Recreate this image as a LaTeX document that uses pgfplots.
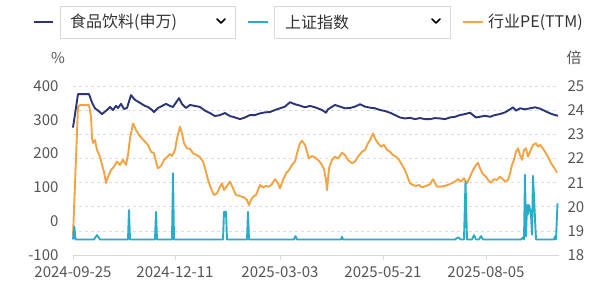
\documentclass[border=0pt]{standalone}
\usepackage{fontspec}
\setmainfont{Noto Sans CJK SC}
\usepackage{pgfplots}
\pgfplotsset{compat=1.18}
\definecolor{navy}{HTML}{2A3577}
\definecolor{cyanl}{HTML}{2AACC8}
\definecolor{orng}{HTML}{F2A444}
\definecolor{gridc}{HTML}{DCDCDC}
\definecolor{tickc}{HTML}{555555}
\definecolor{boxc}{HTML}{D8D8D8}
\begin{document}
\begin{tikzpicture}[x=1pt,y=1pt]
\path[use as bounding box, fill=white] (0,0) rectangle (600,290);
% ---------- right axis: PE (TTM) ----------
\begin{axis}[
  at={(73pt,35pt)}, anchor=south west, scale only axis,
  width=486pt, height=169pt,
  xmin=0, xmax=486, ymin=18, ymax=25,
  axis x line=none,
  axis y line*=right,
  y axis line style={draw=none},
  ytick={18,19,20,21,22,23,24,25},
  yticklabels={18,19,20,21,22,23,24,25},
  ytick style={draw=none},
  ymajorgrids, grid style={gridc, dashed, line width=0.6pt},
  y tick label style={font=\fontsize{15}{16}\selectfont, text=tickc, anchor=west, xshift=5pt},
  /pgf/number format/assume math mode=true,
  clip=false,
]
\addplot[orng, line width=1.9pt, line join=round] coordinates {
(0,18.8) (5,24.14) (7,24.21) (16,24.21) (18,23.73) (19,22.85) (20,22.64) (22,22.76)
(24,22.35) (27,22.07) (29,21.73) (31,21.45) (33,20.98) (35,21.24) (38,21.52) (41,21.66)
(44,21.87) (47,21.73) (50,21.94) (53,21.73) (55,22.14) (57,22.83) (60,23.45) (63,23.18)
(66,22.97) (69,22.83) (72,22.69) (75,22.56) (78,22.28) (81,22.21) (83,21.87) (85,21.59)
(88,21.69) (91,21.94) (94,22.05) (97,22.18) (99,22.10) (102,22.35) (104,22.83) (107,23.31)
(109,23.04) (111,22.63) (114,22.42) (117,22.40) (120,22.21) (124,22.14) (127,22.05) (130,21.87)
(133,21.45) (135,21.11) (138,20.76) (141,20.49) (144,20.55) (147,20.83) (149,20.97) (151,20.69)
(154,20.86) (157,21.04) (160,20.76) (163,20.49) (167,20.44) (171,20.39) (174,20.28) (176,20.07)
(178,20.28) (180,20.41) (183,20.49) (185,20.69) (187,20.90) (190,20.80) (193,20.86) (196,20.83)
(199,20.94) (202,21.14) (205,20.97) (207,20.76) (210,21.11) (213,21.38) (216,21.52) (219,21.73)
(222,21.87) (224,22.21) (227,22.63) (229,22.73) (232,22.56) (234,22.28) (236,22.00) (239,22.10)
(242,22.04) (245,21.94) (248,21.80) (251,21.55) (253,21.11) (254,20.69) (256,21.59) (259,21.94)
(262,22.07) (265,22.00) (269,22.24) (272,22.14) (275,21.94) (279,21.80) (282,21.87) (285,22.07)
(289,22.28) (292,22.35) (295,22.63) (297,22.76) (300,23.04) (302,22.83) (305,22.63) (308,22.49)
(311,22.56) (314,22.35) (317,22.28) (320,22.14) (323,22.07) (326,21.94) (329,21.73) (332,21.52)
(335,21.18) (337,20.97) (340,20.90) (343,20.86) (346,20.90) (349,20.80) (353,20.86) (357,20.93)
(360,21.14) (364,20.83) (367,20.83) (372,20.86) (377,20.94) (382,21.04) (385,21.14) (388,21.04)
(391,21.18) (394,20.97) (397,21.24) (400,21.52) (403,21.73) (405,21.82) (407,21.59) (410,21.35)
(413,21.24) (415,21.11) (418,21.00) (421,21.14) (424,21.11) (427,21.24) (430,21.14) (432,21.04)
(435,21.11) (437,21.38) (439,21.73) (441,21.94) (443,22.28) (445,22.42) (447,22.14) (449,21.94)
(451,22.35) (453,22.42) (455,22.07) (457,22.28) (460,22.56) (463,22.63) (465,22.49) (467,22.56)
(469,22.46) (472,22.28) (475,22.07) (478,21.80) (481,21.63) (484,21.41)
};
\end{axis}
% ---------- left axis ----------
\begin{axis}[
  at={(73pt,35pt)}, anchor=south west, scale only axis,
  width=486pt, height=169pt,
  xmin=0, xmax=486, ymin=-100, ymax=400,
  axis x line*=bottom,
  axis y line*=left,
  x axis line style={draw=boxc, line width=0.8pt},
  y axis line style={draw=none},
  xtick={0,102,207,310,413},
  xticklabels={2024-09-25,2024-12-11,2025-03-03,2025-05-21,2025-08-05},
  xtick style={draw=boxc, line width=0.8pt},
  tick align=outside, major tick length=5pt,
  ytick={-100,0,100,200,300,400},
  yticklabels={-100,0,100,200,300,400},
  ytick style={draw=none},
  x tick label style={font=\fontsize{15}{16}\selectfont, text=tickc, anchor=north, yshift=-3pt},
  y tick label style={font=\fontsize{15}{16}\selectfont, text=tickc, anchor=east, xshift=-6pt},
  /pgf/number format/assume math mode=true,
  clip=false,
]
\addplot[navy, line width=1.9pt, line join=round] coordinates {
(0,277) (5,376) (16,376) (19,351) (22,334) (26,325) (29,317) (34,329) (37,338) (40,329)
(43,341) (45,335) (48,347) (51,332) (54,335) (58,373) (62,359) (67,350) (72,341) (75,338)
(79,329) (81,323) (85,335) (89,341) (93,347) (97,341) (100,338) (106,364) (109,347) (113,335)
(117,344) (122,341) (127,338) (132,327) (137,320) (142,311) (147,314) (152,320) (157,311) (162,307)
(167,302) (172,307) (177,314) (182,314) (187,319) (192,322) (197,323) (202,329) (207,334) (212,339)
(217,352) (222,346) (227,342) (232,337) (237,341) (242,337) (249,329) (253,321) (255,331) (262,344)
(267,339) (272,334) (277,335) (282,339) (287,346) (292,339) (297,336) (302,334) (307,329) (312,326)
(317,321) (322,314) (327,307) (332,304) (337,306) (342,302) (347,305) (352,302) (357,302) (362,305)
(367,304) (372,302) (377,307) (382,309) (387,314) (392,317) (397,321) (400,314) (403,307) (407,309)
(412,312) (417,309) (422,314) (427,317) (432,322) (437,331) (440,337) (443,327) (447,334) (452,331)
(457,334) (462,337) (467,333) (472,326) (477,319) (482,314) (485,312)
};
\addplot[cyanl, line width=1.9pt, line join=round] coordinates {
(0,-54) (1.3,-16) (2.5,-54) (21,-54) (24,-41) (27,-54) (55,-54) (56,33) (57,-54)
(82,-54) (83,28) (84,-54) (99,-54) (100,142) (101,-54) (150,-54) (151,28) (153,28) (154,-54)
(174,-54) (175,28) (176,-54) (221,-54) (222.5,-44) (224,-54) (268,-54) (269,-46) (270,-54)
(382,-54) (385,-48) (388,-54) (391,-54) (392.5,117) (394,-54) (399,-54) (401,-41) (403,-54)
(406,-54) (408,-44) (410,-54) (448,-54) (450,-48) (451,-54) (452,137) (453,-45) (454,48)
(455,20) (456,48) (458,20) (459,-40) (460,134) (463,-54) (481,-54) (482,-45) (483,-54) (484.5,53)
};
\end{axis}
% ---------- axis units ----------
\node[font=\fontsize{15}{16}\selectfont, text=tickc] at (58,232) {\%};
\node[font=\fontsize{15}{16}\selectfont, text=tickc] at (574,232) {倍};
% ---------- legend (widget style) ----------
\draw[navy, line width=2.5pt] (34,268) -- (53,268);
\draw[boxc, line width=0.7pt, fill=white] (60,252) rectangle (235,284);
\node[anchor=west, font=\fontsize{16}{18}\selectfont, text=black!80, inner sep=0pt] at (70,268) {食品饮料(申万)};
\draw[black, line width=1.7pt, line cap=round, line join=round] (217,271) -- (221,267) -- (225,271);
\draw[cyanl, line width=2.5pt] (248,268) -- (268,268);
\draw[boxc, line width=0.7pt, fill=white] (274,252) rectangle (450,284);
\node[anchor=west, font=\fontsize{16}{18}\selectfont, text=black!80, inner sep=0pt] at (285,268) {上证指数};
\draw[black, line width=1.7pt, line cap=round, line join=round] (432,271) -- (436,267) -- (440,271);
\draw[orng, line width=2.5pt] (463,268) -- (483,268);
\node[anchor=west, font=\fontsize{16}{18}\selectfont, text=black!80, inner sep=0pt] at (488,268) {行业PE(TTM)};
\end{tikzpicture}
\end{document}
